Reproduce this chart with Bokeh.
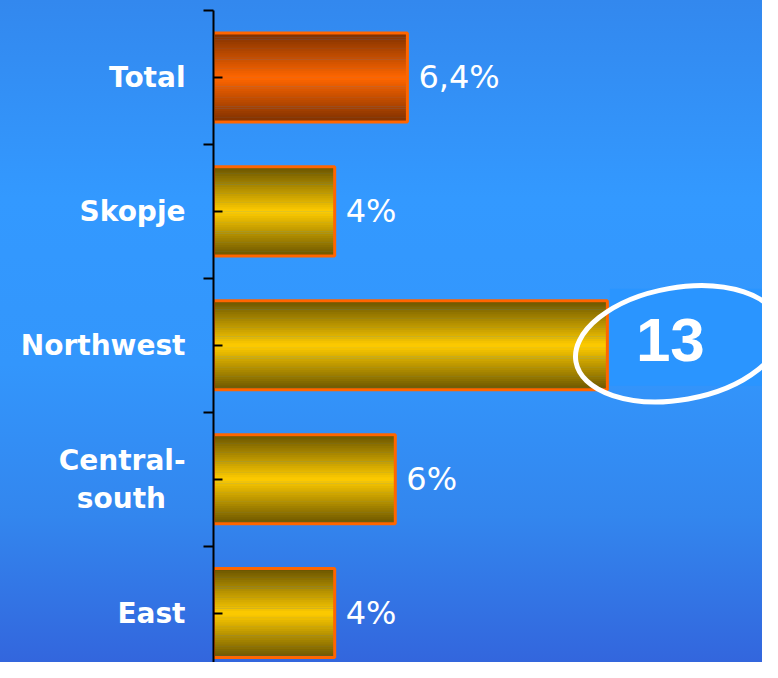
import numpy as np
from bokeh.plotting import figure
from bokeh.models import ColumnDataSource, FixedTicker, Range1d
from bokeh.core.properties import value
from bokeh.embed import file_html
from bokeh.resources import INLINE

# ---- data ----
categories = ["Total", "Skopje", "Northwest", "Central-south", "East"]
shares = [6.4, 4, 13, 6, 4]
value_labels = ["6,4%", "4%", "13", "6%", "4%"]
axis_labels = ["Total", "Skopje", "Northwest", "Central-\nsouth\u00a0\u00a0", "East"]
highlight = "Northwest"

# ---- layout ----
W, H = 762, 662
LEFT = 213
TOP = 10
X_END = 18.12
Y_START, Y_END = -0.369, 4.5
BAR_H = 0.665
N = 40
PX_X = (W - LEFT) / X_END
PX_Y = (H - TOP) / (Y_END - Y_START)

ypos = [len(categories) - 1 - i for i in range(len(categories))]

p = figure(width=W, height=H, output_backend="svg", toolbar_location=None,
           x_range=Range1d(0, X_END), y_range=Range1d(Y_START, Y_END),
           min_border_left=LEFT, min_border_right=0, min_border_top=TOP,
           min_border_bottom=0)
p.background_fill_alpha = 0
p.border_fill_alpha = 0
p.outline_line_color = None
p.styles = {"background": "linear-gradient(to bottom, #3388ee 0%, #3399ff 30%, "
                          "#3396fc 55%, #3386ee 78%, #3366dd 100%)"}
p.grid.visible = False
p.xaxis.visible = False


def mix(c1, c2, t):
    r = [int(round(a * (1 - t) + b * t)) for a, b in zip(c1, c2)]
    return "#%02x%02x%02x" % tuple(r)


gold_c, gold_e = (255, 204, 0), (105, 84, 0)
orng_c, orng_e = (255, 102, 0), (125, 48, 0)
rows = dict(y=[], right=[], color=[])
offs = (np.arange(N) + 0.5) / N - 0.5
for cat, v, yc in zip(categories, shares, ypos):
    c, e = (orng_c, orng_e) if cat == "Total" else (gold_c, gold_e)
    for o in offs:
        t = min(1.0, abs(o) * 2)
        rows["y"].append(yc + o * BAR_H)
        rows["right"].append(v)
        rows["color"].append(mix(c, e, t))
p.hbar(y="y", left=0, right="right", height=BAR_H / N * 1.2,
       fill_color="color", line_color=None, source=ColumnDataSource(rows))
p.hbar(y=ypos, left=0, right=shares, height=BAR_H, fill_alpha=0,
       line_color="#ff6600", line_width=3)

# value labels
idx = [i for i, c in enumerate(categories) if c != highlight]
p.text(x=[shares[i] for i in idx], y=[ypos[i] for i in idx],
       text=[value_labels[i] for i in idx], x_offset=11,
       text_baseline="middle", text_align="left", text_color="white",
       text_font=value("DejaVu Sans"), text_font_size="32px")

# highlighted value
h = categories.index(highlight)
p.rect(x=[shares[h] + 83 / PX_X], y=[ypos[h] + 8 / PX_Y], width=161, height=97,
       width_units="screen", height_units="screen",
       fill_color="#2a95ff", line_color=None)
p.ellipse(x=[shares[h] + 71 / PX_X], y=[ypos[h] + 1.5 / PX_Y], width=208, height=112,
          width_units="screen", height_units="screen", angle=0.175,
          fill_alpha=0, line_color="white", line_width=5)
p.text(x=[shares[h]], y=[ypos[h]], text=[value_labels[h]], x_offset=63, y_offset=-5,
       text_align="center", text_baseline="middle", text_color="white",
       text_font=value("Liberation Sans"), text_font_style="bold",
       text_font_size="62px")

# axis
ax = p.yaxis[0]
ax.ticker = FixedTicker(ticks=ypos, minor_ticks=[y + 0.5 for y in ypos])
ax.major_label_overrides = {y: lab for y, lab in zip(ypos, axis_labels)}
ax.major_tick_in = 9
ax.major_tick_out = 0
ax.minor_tick_in = 0
ax.minor_tick_out = 10
ax.axis_line_color = "black"
ax.axis_line_width = 2
ax.major_tick_line_color = "black"
ax.major_tick_line_width = 2
ax.minor_tick_line_color = "black"
ax.minor_tick_line_width = 2
ax.major_label_text_color = "white"
ax.major_label_text_font = "DejaVu Sans"
ax.major_label_text_font_style = "bold"
ax.major_label_text_font_size = "28px"
ax.major_label_text_line_height = 1.15
ax.major_label_standoff = 18

open("out.html", "w").write(file_html(p, INLINE))
